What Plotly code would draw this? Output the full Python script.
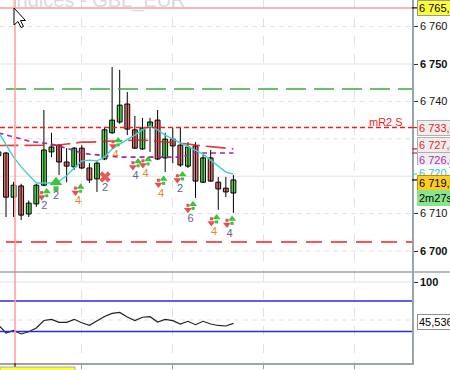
import plotly.graph_objects as go

W, H = 450, 370

# ---------------- data ----------------
idx = list(range(32))
opens = [6725.5, 6726.2, 6714.4, 6717.4, 6709.9, 6712.6, 6717.6, 6726.5, 6728.3, 6723.8,
         6722.5, 6727.5, 6722.2, 6719.3, 6724.6, 6731.6, 6734.5, 6739.3, 6732.4, 6727.3,
         6733.2, 6735.0, 6724.9, 6729.9, 6728.3, 6722.7, 6728.1, 6718.4, 6724.9, 6718.4,
         6716.8, 6715.5]
highs = [6728.0, 6726.5, 6718.5, 6718.0, 6713.5, 6718.0, 6737.7, 6731.6, 6728.6, 6727.5,
         6727.8, 6728.3, 6723.5, 6724.0, 6733.0, 6749.2, 6748.4, 6742.5, 6736.1, 6735.6,
         6735.6, 6737.7, 6731.6, 6732.9, 6732.9, 6729.1, 6729.1, 6725.7, 6727.0, 6719.8,
         6719.8, 6720.3]
lows = [6724.0, 6709.1, 6709.1, 6708.3, 6709.1, 6711.8, 6717.3, 6725.1, 6720.3, 6718.4,
        6721.7, 6721.9, 6718.2, 6715.8, 6724.3, 6731.3, 6734.0, 6731.0, 6727.3, 6727.0,
        6726.5, 6724.3, 6721.1, 6723.5, 6722.5, 6722.2, 6714.2, 6718.2, 6718.5, 6711.0,
        6714.4, 6710.2]
closes = [6726.5, 6714.4, 6717.6, 6709.6, 6712.8, 6717.6, 6727.0, 6727.8, 6723.8, 6722.7,
          6727.5, 6722.2, 6719.0, 6723.5, 6732.4, 6735.0, 6739.0, 6732.6, 6727.5, 6732.9,
          6734.5, 6724.6, 6729.9, 6728.1, 6723.0, 6727.8, 6718.7, 6724.9, 6718.7, 6716.6,
          6715.8, 6719.0]

ma_cyan = [6731.8, 6728.6, 6725.1, 6722.5, 6720.3, 6718.2, 6718.2, 6718.2, 6718.7, 6720.1,
           6722.2, 6724.1, 6724.3, 6724.1, 6725.1, 6727.3, 6728.6, 6729.7, 6731.0, 6732.4,
           6733.4, 6732.4, 6731.0, 6729.9, 6728.9, 6727.8, 6727.0, 6725.9, 6724.3, 6722.7,
           6721.1, 6720.6]
ma_purple = [6731.6, 6731.0, 6730.5, 6729.9, 6729.4, 6729.1, 6728.9, 6728.6, 6728.1, 6727.5,
             6726.7, 6726.2, 6725.9, 6725.7, 6725.4, 6725.1, 6725.1, 6725.1, 6725.1, 6725.1,
             6725.1, 6725.1, 6725.1, 6725.1, 6725.1, 6725.7, 6726.2, 6726.2, 6726.2, 6726.2,
             6726.2, 6726.2]
ma_red = [6728.2, 6728.2, 6728.1, 6728.1, 6728.1, 6728.1, 6728.2, 6728.3, 6728.3, 6728.6,
          6728.9, 6729.1, 6729.1, 6729.1, 6729.3, 6729.4, 6729.5, 6729.7, 6729.7, 6729.7,
          6729.5, 6729.3, 6729.1, 6729.0, 6728.9, 6728.6, 6728.3, 6728.2, 6727.9, 6727.7,
          6727.4, 6727.3]

rsi = [43.4, 32.9, 36.2, 31.6, 34.6, 39.5, 49.3, 50.9, 47.0, 47.0,
       50.9, 46.4, 43.0, 49.1, 54.6, 58.6, 59.9, 53.9, 49.3, 53.6,
       54.3, 47.4, 50.9, 49.1, 44.7, 48.3, 43.8, 48.3, 44.7, 42.8,
       42.1, 45.536]

# signal groups (x in bar index units, price of arrows, label, label colour)
sig_x = [6.04, 10.50, 15.45, 18.08, 19.40, 21.45, 23.95, 25.34, 28.44, 30.49]
sig_y = [6715.0, 6716.2, 6728.6, 6723.0, 6723.5, 6718.3, 6719.5, 6711.6, 6708.0, 6707.6]
sig_lbl = ["2", "4", "4", "4", "4", "4", "2", "6", "4", "4"]
sig_col = ["#5a6890", "#d98a30", "#d98a30", "#5a6890", "#d98a30", "#d98a30",
           "#5a6890", "#5a6890", "#d98a30", "#5a6890"]
big_up_x = [7.60]
big_up_y = [6717.6]
big_up_lbl = ["2"]
cross_x = [14.06]
cross_y = [6719.8]
cross_lbl = ["2"]

level_green = 6743.3
level_mr2s = 6733.0
level_red = 6702.4
cursor_price = 6765.0
cursor_bar = 2.19
last_price = 6719.0

y_ticks = [6760, 6750, 6740, 6710, 6700]
y_ticktext = ["6 760", "<b>6 750</b>", "6 740", "6 710", "<b>6 700</b>"]
grid_solid = [6750, 6720]
grid_dash = [6760, 6740, 6730, 6710, 6700]
x_grid = [11, 23, 35, 47]
rsi_bands = [75, 35]

# ---------------- helpers ----------------
def px(x):
    return x / W

def py(y):
    return 1 - y / H

XR = [0.2084, 54.56]
YR = [6694.39, 6767.11]
Y2R = [-6.58, 113.16]
XD = [0, 412 / W]
YD1 = [py(272), 1]
YD2 = [py(363), py(272)]
PPU = 272 / (YR[1] - YR[0])  # pixels per price unit

FONT = "Liberation Sans, Arial, sans-serif"
UP_FILL, DN_FILL = "#55dd55", "#ec7676"
ARR_G, ARR_R = "#3cc43c", "#e85050"

fig = go.Figure()

# wicks
wx, wy = [], []
for i, h, l in zip(idx, highs, lows):
    wx += [i, i, None]
    wy += [l, h, None]
fig.add_trace(go.Scatter(x=wx, y=wy, mode="lines", line=dict(color="black", width=1),
                         xaxis="x", yaxis="y", showlegend=False, hoverinfo="skip"))
# bodies
base = [min(o, c) for o, c in zip(opens, closes)]
size = [max(abs(c - o), 0.25) for o, c in zip(opens, closes)]
fills = [UP_FILL if c >= o else DN_FILL for o, c in zip(opens, closes)]
fig.add_trace(go.Bar(x=idx, y=size, base=base, width=0.64,
                     marker=dict(color=fills, line=dict(color="black", width=1)),
                     xaxis="x", yaxis="y", showlegend=False, hoverinfo="skip"))

fig.add_trace(go.Scatter(x=idx, y=ma_red, mode="lines", xaxis="x", yaxis="y",
                         line=dict(color="rgba(215,30,30,0.85)", width=1.6, dash="20px,6px"),
                         showlegend=False, hoverinfo="skip"))
fig.add_trace(go.Scatter(x=idx, y=ma_purple, mode="lines", xaxis="x", yaxis="y",
                         line=dict(color="#a626a6", width=1.6, dash="5px,4px"),
                         showlegend=False, hoverinfo="skip"))
fig.add_trace(go.Scatter(x=idx, y=ma_cyan, mode="lines", xaxis="x", yaxis="y",
                         line=dict(color="#3cd2d2", width=1.4),
                         showlegend=False, hoverinfo="skip"))


def arrows(xs, ys, up, color, head, stem, stem_len):
    # head marker + stem marker make a block arrow
    d = 1 if up else -1
    hy = [v + d * (stem_len / 2) / PPU for v in ys]
    sy = [v - d * (head / 3) / PPU for v in ys]
    fig.add_trace(go.Scatter(x=xs, y=sy, mode="markers",
                             marker=dict(symbol="square", size=stem, color=color, line=dict(width=0)),
                             xaxis="x", yaxis="y", showlegend=False, hoverinfo="skip"))
    fig.add_trace(go.Scatter(x=xs, y=hy, mode="markers",
                             marker=dict(symbol="triangle-up" if up else "triangle-down", size=head,
                                         color=color, line=dict(width=0)),
                             xaxis="x", yaxis="y", showlegend=False, hoverinfo="skip"))


off = 0.34
arrows([v - off for v in sig_x], sig_y, False, ARR_R, 7, 3, 4)
arrows([v + off for v in sig_x], [v + 0.4 for v in sig_y], True, ARR_G, 7, 3, 4)
arrows(big_up_x, big_up_y, True, ARR_G, 11, 5, 6)

fig.add_trace(go.Scatter(x=cross_x, y=cross_y, mode="markers",
                         marker=dict(symbol="x", size=10, color="#e85a5a", line=dict(width=0)),
                         xaxis="x", yaxis="y", showlegend=False, hoverinfo="skip"))
lab_x = sig_x + big_up_x + cross_x
lab_y = [v - 3.0 for v in sig_y + big_up_y + cross_y]
lab_t = sig_lbl + big_up_lbl + cross_lbl
lab_c = sig_col + ["#5a6890", "#5a6890"]
fig.add_trace(go.Scatter(x=lab_x, y=lab_y, mode="text", text=lab_t,
                         textfont=dict(color=lab_c, size=11, family=FONT),
                         xaxis="x", yaxis="y", showlegend=False, hoverinfo="skip"))

# RSI
fig.add_trace(go.Scatter(x=idx, y=rsi, mode="lines", xaxis="x2", yaxis="y2",
                         line=dict(color="#222222", width=1.2), showlegend=False, hoverinfo="skip"))

shapes = []
GRID = "#e2e2e2"
for g in grid_solid:
    shapes.append(dict(type="line", xref="x domain", yref="y", x0=0, x1=1, y0=g, y1=g,
                       line=dict(color=GRID, width=1), layer="below"))
for g in grid_dash:
    shapes.append(dict(type="line", xref="x domain", yref="y", x0=0, x1=1, y0=g, y1=g,
                       line=dict(color=GRID, width=1, dash="5px,4px"), layer="below"))
shapes.append(dict(type="line", xref="x2 domain", yref="y2", x0=0, x1=1, y0=100, y1=100,
                   line=dict(color=GRID, width=1), layer="below"))
shapes.append(dict(type="line", xref="x2 domain", yref="y2", x0=0, x1=1, y0=50, y1=50,
                   line=dict(color=GRID, width=1, dash="5px,4px"), layer="below"))
# level lines
shapes.append(dict(type="line", xref="x domain", yref="y", x0=6 / 412, x1=1, y0=level_green, y1=level_green,
                   line=dict(color="#3aaa3a", width=1.5, dash="20px,8px")))
shapes.append(dict(type="line", xref="x domain", yref="y", x0=0, x1=1, y0=level_mr2s, y1=level_mr2s,
                   line=dict(color="#ff1a1a", width=1.5, dash="5px,3px")))
shapes.append(dict(type="line", xref="x domain", yref="y", x0=6 / 412, x1=1, y0=level_red, y1=level_red,
                   line=dict(color="#ff1a1a", width=1.5, dash="16px,9px")))
# rsi bands
for b in rsi_bands:
    shapes.append(dict(type="line", xref="x2 domain", yref="y2", x0=0, x1=1, y0=b, y1=b,
                       line=dict(color="#2a2ae0", width=1.5)))
# cursor crosshair
shapes.append(dict(type="line", xref="x", yref="paper", x0=cursor_bar, x1=cursor_bar, y0=0, y1=1,
                   line=dict(color="#ff9c9c", width=1.5)))
shapes.append(dict(type="line", xref="x domain", yref="y", x0=0, x1=1, y0=cursor_price, y1=cursor_price,
                   line=dict(color="#ff9c9c", width=1.5)))
shapes.append(dict(type="line", xref="x", yref="paper", x0=cursor_bar, x1=cursor_bar, y0=py(363), y1=py(367),
                   line=dict(color="black", width=1)))
# panel separator
shapes.append(dict(type="line", xref="paper", yref="paper", x0=0, x1=1, y0=py(272), y1=py(272),
                   line=dict(color="#98a6ac", width=1.5)))
# axis markers for the levels
for lvl, col in [(cursor_price, "black"), (level_mr2s, "#f01c1c"), (ma_red[-1], "#d01c1c"),
                 (ma_purple[-1], "#a626a6"), (ma_cyan[-1], "#3cd2d2"), (last_price, "black")]:
    shapes.append(dict(type="line", xref="paper", yref="y", x0=px(412), x1=px(417), y0=lvl, y1=lvl,
                       line=dict(color=col, width=1.2)))
# bottom time label box
shapes.append(dict(type="rect", xref="paper", yref="paper", x0=0, x1=px(75), y0=py(376), y1=py(367),
                   fillcolor="#ffff33", line=dict(color="#aaaaaa", width=1)))
# mouse pointer
pts = [(14, 8), (14, 25), (18, 21.5), (21, 27.5), (23.5, 26.5), (20.5, 20.5), (25.5, 20.5)]
path = "M " + " L ".join(f"{px(a):.5f},{py(b):.5f}" for a, b in pts) + " Z"
shapes.append(dict(type="path", xref="paper", yref="paper", path=path,
                   fillcolor="white", line=dict(color="black", width=1)))

ann = []
ann.append(dict(text="Indices - GBL_EUR", xref="paper", yref="paper", x=px(9), y=py(1), xanchor="left",
                yanchor="middle", showarrow=False, font=dict(family=FONT, size=20, color="#dadada")))
ann.append(dict(text="mR2 S", xref="paper", yref="paper", x=px(386), y=py(122), xanchor="center",
                yanchor="middle", showarrow=False, font=dict(family=FONT, size=11, color="#f01c1c")))

def box(text, ypx, col, bg, border):
    ann.append(dict(text=text, xref="paper", yref="paper", x=px(417), y=py(ypx), xanchor="left",
                    yanchor="middle", showarrow=False, align="left",
                    font=dict(family=FONT, size=11, color=col), bgcolor=bg,
                    bordercolor=border, borderwidth=1, borderpad=1))

box("6 765,1", 8.5, "black", "#ffff33", "#9a9a9a")
box("6 733,0", 128, "#f01c1c", "#eeeeee", "#b0b0b0")
box("6 727,4", 144.5, "#f01c1c", "#eeeeee", "#b0b0b0")
box("6 726,0", 160, "#b030b0", "#eeeeee", "#b0b0b0")
box("6 720", 173, "#30c8c8", "#ffffff", "#ffffff")
box("6 719,0", 183, "black", "#ffcc22", "#c09000")
box("2m27s", 198.5, "black", "#8be48b", "#8be48b")
box("45,536", 322, "black", "#ffffff", "#909090")

AX = "#98a6ac"
fig.update_layout(
    width=W, height=H, margin=dict(l=0, r=0, t=0, b=0),
    paper_bgcolor="white", plot_bgcolor="white",
    showlegend=False, barmode="overlay",
    xaxis=dict(domain=XD, range=XR, anchor="y", showticklabels=False, tickvals=x_grid,
               showgrid=True, gridcolor=GRID, griddash="dash", zeroline=False, showline=False, ticks=""),
    yaxis=dict(domain=YD1, range=YR, anchor="x", side="right", tickvals=y_ticks, ticktext=y_ticktext,
               ticks="outside", ticklen=4, tickcolor="#333", showline=True, linecolor=AX, linewidth=1.5,
               showgrid=False, zeroline=False, tickfont=dict(family=FONT, size=11, color="#111")),
    xaxis2=dict(domain=XD, range=XR, anchor="y2", matches="x", showticklabels=False, tickvals=x_grid,
                ticks="outside", ticklen=4, tickcolor="#999", showgrid=True, gridcolor=GRID, griddash="dash",
                showline=True, linecolor=AX, linewidth=1.5, zeroline=False),
    yaxis2=dict(domain=YD2, range=Y2R, anchor="x2", side="right", tickvals=[100], ticktext=["<b>100</b>"],
                ticks="outside", ticklen=4, tickcolor="#333", showline=True, linecolor=AX, linewidth=1.5,
                showgrid=False, zeroline=False, tickfont=dict(family=FONT, size=11, color="#111")),
    shapes=shapes, annotations=ann,
)

fig.write_html("out.html")
